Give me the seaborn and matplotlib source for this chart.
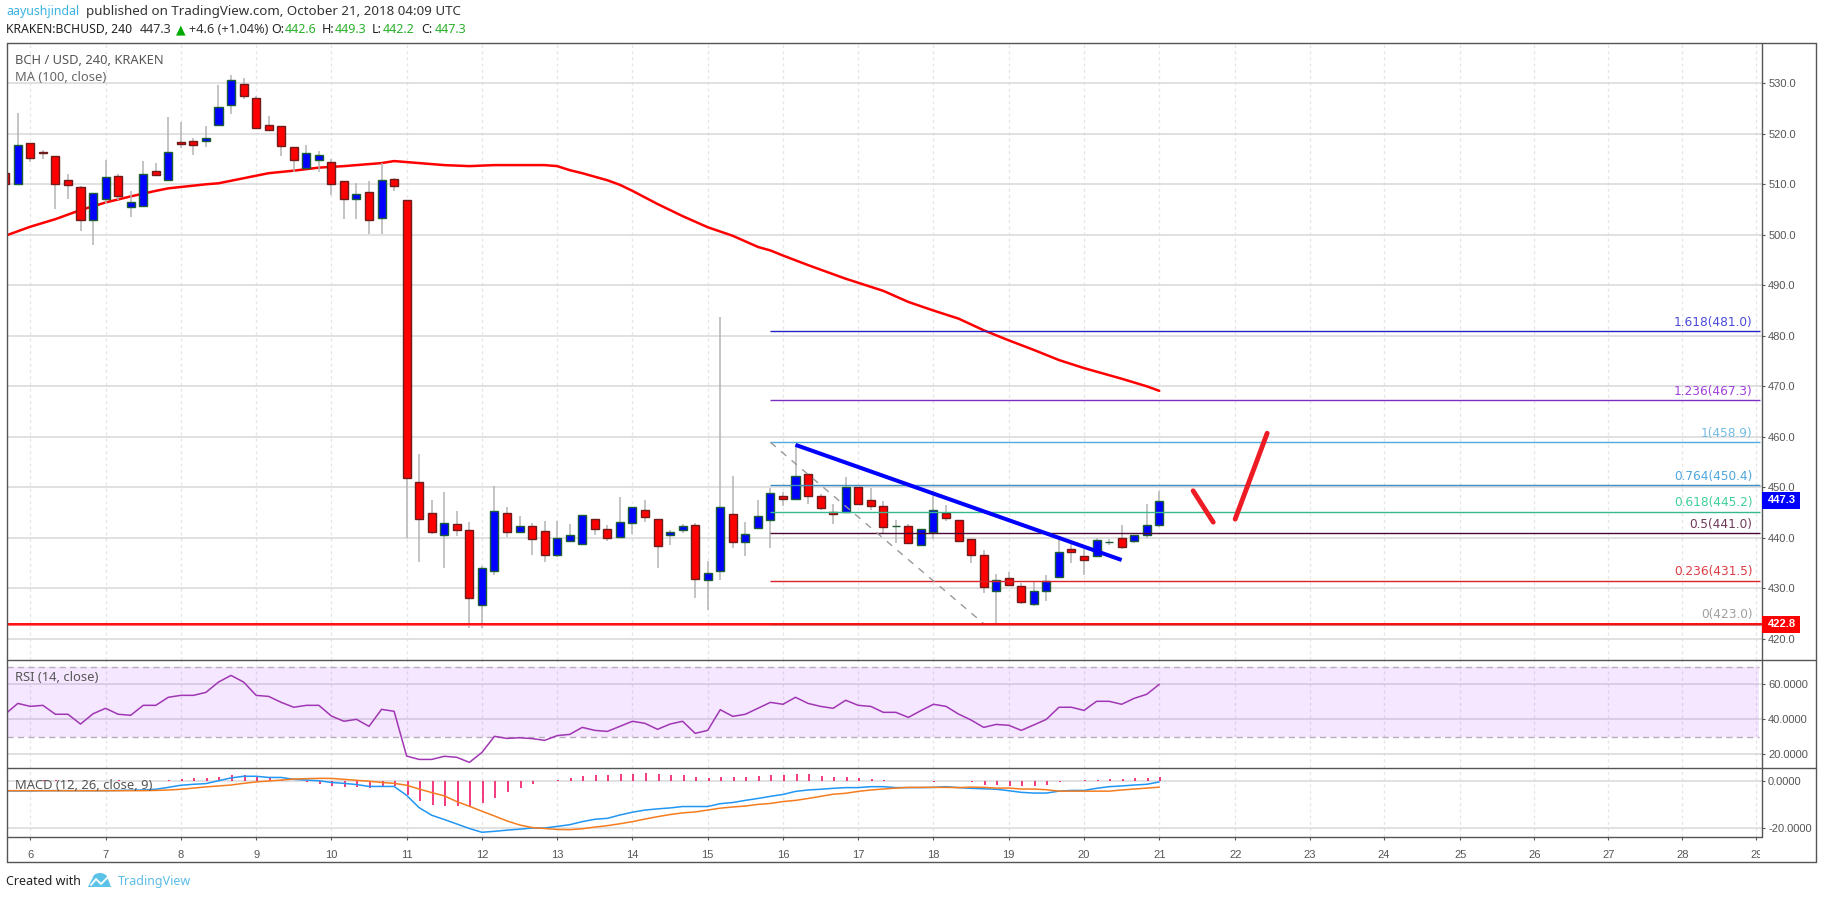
#!/usr/bin/env python3
"""BCH/USD 4h chart with MA, fib levels, RSI and MACD panes"""

import numpy as np
import pandas as pd
import matplotlib
matplotlib.use('Agg')
import matplotlib.pyplot as plt
from matplotlib.patches import Rectangle, Ellipse, Polygon
from matplotlib.lines import Line2D
from matplotlib.transforms import Bbox
import seaborn as sns

W, H = 1828, 899

# ─── data ────────────────────────────────────────────────────
bars = np.arange(-2, 91)

opens = [512.2,510.1,518.1,516.4,515.7,510.8,509.4,503.0,507.0,511.6,
         505.6,505.8,512.6,510.8,518.3,518.5,518.6,521.7,525.8,529.8,
         527.0,521.7,521.5,517.3,513.3,514.9,514.4,510.6,507.0,508.4,
         503.3,511.0,506.8,451.1,445.0,440.6,442.8,441.6,426.6,433.5,
         445.0,441.1,442.4,441.4,436.6,439.4,438.8,443.8,441.8,440.1,
         443.0,445.6,443.8,440.6,441.5,442.6,431.7,433.5,444.8,439.1,
         442.0,443.6,448.3,447.7,452.7,448.3,445.1,445.2,450.1,447.5,
         446.2,442.3,442.4,438.6,441.1,445.0,443.6,439.8,436.6,429.5,
         432.05,430.5,426.9,429.5,432.3,437.8,436.4,436.4,439.2,440.0,
         439.4,440.6,442.6]
highs = [512.2,524.1,518.1,516.8,515.7,512.0,509.7,508.2,514.8,512.0,
         508.7,514.6,514.2,523.3,522.3,519.2,521.6,529.7,531.7,531.1,
         527.4,523.5,521.5,517.3,517.8,516.6,515.1,510.6,510.3,510.6,
         514.2,511.2,506.8,456.6,447.4,449.0,445.4,443.2,434.5,450.2,
         446.0,444.4,443.0,443.4,443.4,442.8,444.6,443.8,442.6,448.0,
         446.0,447.4,443.8,441.5,442.8,443.0,435.4,483.7,452.2,443.2,
         447.4,449.9,449.0,458.5,452.7,448.7,446.6,452.0,450.1,449.8,
         447.2,443.6,442.8,441.7,449.3,446.4,443.6,439.8,437.5,432.8,
         433.3,431.0,431.4,432.7,439.5,438.8,437.8,440.0,439.8,442.5,
         440.6,446.6,449.3]
lows = [510.0,510.1,514.4,515.1,505.1,507.1,500.8,498.0,506.1,506.9,
        503.6,505.8,511.9,510.8,517.1,515.9,517.3,521.7,524.0,526.8,
        521.1,520.8,515.7,512.5,513.3,512.5,507.8,503.1,503.1,500.2,
        500.2,508.7,440.0,435.3,440.7,434.0,440.3,422.2,422.2,432.6,
        440.1,440.9,436.6,435.3,436.2,439.4,438.5,440.5,439.3,439.9,
        440.7,443.1,434.1,438.5,440.9,428.1,425.7,431.7,438.0,436.4,
        442.0,438.0,446.3,447.7,446.7,445.5,442.7,445.2,446.7,445.5,
        440.8,438.9,439.0,438.6,439.7,443.4,439.4,435.1,429.1,423.2,
        430.6,426.8,426.4,427.5,432.3,435.0,432.7,436.2,438.5,437.7,
        438.9,440.0,442.2]
closes = [510.0,517.7,515.3,516.1,510.1,509.9,503.0,508.2,511.4,507.6,
          506.4,512.0,511.9,516.3,517.9,517.7,519.2,525.4,530.6,527.4,
          521.1,520.8,517.5,514.9,516.1,515.9,510.0,507.0,508.0,503.0,
          510.8,509.6,451.8,443.7,441.1,443.0,441.5,428.0,434.0,445.4,
          441.1,442.4,439.8,436.6,440.0,440.6,444.6,441.8,439.9,443.2,
          446.0,444.1,438.3,441.2,442.4,431.9,433.0,446.0,439.1,440.8,
          444.4,448.9,447.7,452.3,448.3,445.9,444.7,450.1,446.7,446.2,
          442.2,442.3,439.0,441.7,445.5,443.9,439.4,436.6,430.2,431.7,
          430.6,427.2,429.5,431.4,437.2,437.2,435.6,439.6,439.2,438.2,
          440.6,442.6,447.3]

ma_bars = [-2,0,2,4,6,8,10,11,14,15,17,19,21,23,25,28,29,30,31,33,35,37,38,40,41,42,
           43,44,46,47,48,50,52,54,56,58,59,60,62,64,65,66,68,70,72,74,76,78,80,82,
           84,85,87,89,90]
ma_vals = [499.8,501.6,503.1,504.9,506.4,507.6,508.7,509.2,510.0,510.2,511.2,512.2,512.7,
           513.3,513.6,514.2,514.6,514.4,514.2,513.8,513.6,513.8,513.8,513.8,513.8,513.6,
           512.8,512.2,510.8,509.9,508.7,506.1,503.7,501.5,499.8,497.6,496.9,495.9,494.0,
           492.2,491.3,490.5,488.9,486.7,485.0,483.4,481.1,479.1,477.2,475.2,473.6,472.9,
           471.5,470.0,469.1]

rsi_vals = [43.0,49.1,47.4,48.0,42.9,42.9,37.3,43.2,46.3,42.9,
            42.3,48.0,48.0,52.6,53.7,53.7,55.4,61.3,65.1,61.3,
            53.7,53.1,49.7,46.9,48.0,48.0,41.9,38.9,40.0,36.0,
            45.7,44.6,19.0,17.1,17.1,18.9,18.3,15.4,21.1,30.3,
            29.1,29.5,29.0,28.0,30.7,31.4,35.4,33.7,33.1,36.0,
            38.9,37.7,34.3,37.3,38.9,32.0,33.7,45.5,41.7,42.9,
            46.3,49.7,48.6,52.6,49.1,47.4,46.3,50.9,48.0,47.4,
            44.0,44.0,41.1,45.0,48.6,47.4,43.0,39.6,35.4,37.1,
            36.6,33.7,36.8,40.0,46.9,46.9,45.1,50.3,50.3,48.6,
            52.0,54.3,60.0]

macd_vals = [-4.2,-4.2,-4.2,-4.1,-4.1,-4.1,-4.1,-4.1,-4.1,-4.0,
             -3.9,-3.8,-3.5,-2.7,-1.8,-1.4,-1.1,0.1,1.3,2.0,
             2.0,1.5,1.5,0.7,0.4,0.1,-0.6,-1.0,-1.5,-2.3,
             -2.3,-2.3,-6.1,-11.3,-14.5,-16.3,-18.2,-20.1,-21.7,-21.3,
             -20.8,-20.4,-19.9,-19.9,-19.2,-18.5,-17.2,-16.2,-15.8,-14.4,
             -13.2,-12.3,-11.8,-11.4,-10.8,-10.8,-10.8,-9.6,-9.1,-8.2,
             -7.4,-6.5,-5.7,-4.4,-3.8,-3.5,-3.1,-2.8,-2.8,-2.4,
             -2.4,-2.8,-2.8,-2.8,-2.7,-2.4,-2.8,-3.1,-3.3,-3.5,
             -4.1,-4.8,-5.1,-5.1,-4.3,-4.0,-4.0,-3.1,-2.4,-2.1,
             -1.7,-1.4,-0.4]
signal_vals = [-4.1,-4.1,-4.1,-4.1,-4.1,-4.1,-4.1,-4.1,-4.1,-4.1,
               -4.1,-4.1,-4.0,-3.8,-3.5,-3.0,-2.5,-2.1,-1.7,-1.0,
               -0.4,0.0,0.4,0.8,1.0,1.1,1.1,0.7,0.3,-0.1,
               -0.6,-1.0,-1.8,-3.4,-4.9,-6.3,-8.7,-10.7,-12.8,-14.8,
               -16.9,-18.6,-19.7,-20.1,-20.5,-20.6,-20.2,-19.5,-18.9,-18.1,
               -17.2,-16.1,-15.1,-14.2,-13.5,-13.1,-12.3,-11.5,-11.0,-10.6,
               -9.9,-9.5,-8.7,-8.2,-7.4,-6.5,-5.6,-5.2,-4.4,-3.8,
               -3.4,-3.0,-2.7,-2.7,-2.7,-2.7,-2.8,-2.6,-2.7,-3.0,
               -3.0,-3.4,-3.4,-3.7,-4.3,-4.3,-4.3,-4.3,-4.3,-3.8,
               -3.4,-3.0,-2.6]
hist_vals = [0,0,0,0.5,0.3,0.3,0.2,0.3,0.2,0.3,
             0.2,0.2,0.2,0.6,1.0,1.4,1.4,1.8,2.5,2.5,
             1.8,1.3,0.3,-0.1,-0.6,-1.1,-2.0,-2.5,-2.4,-2.8,
             -2.1,-2.1,-5.9,-8.5,-10.1,-10.6,-10.6,-10.6,-9.4,-7.2,
             -4.7,-3.0,-1.3,0,0.4,1.3,2.0,2.4,2.4,2.8,
             2.8,3.4,2.8,2.4,2.4,1.5,1.1,1.5,1.5,1.5,
             2.0,2.4,2.4,2.8,2.8,2.0,1.5,1.5,1.1,0.7,
             0.4,0.1,0,0,-0.3,0,-0.1,-0.4,-1.5,-1.6,
             -2.0,-2.0,-2.0,-1.5,-0.5,0,0.3,0.6,1.0,1.0,
             1.4,1.4,1.8]

tick_days = list(range(6, 30))
tick_bars = [0,6,12,18,24,30,36,42,48,54,60,66,72,78,84,90,
             96.06,102.0,107.9,114.0,119.9,125.8,131.7,137.6]

price_ticks = [420,430,440,450,460,470,480,490,500,510,520,530]
rsi_ticks = [20,40,60]
macd_ticks = [-20,0]

fib_levels = [1.618,1.236,1,0.764,0.618,0.5,0.236,0]
fib_prices = [481.0,467.3,458.9,450.4,445.2,441.0,431.5,423.0]
fib_line_colors = ['#2323c8','#7b2fbf','#4ea9dc','#3c8fc0','#36b98e','#4c0a33','#d9232b','#808080']
fib_text_colors = ['#4a4ad9','#a040d8','#72bbe2','#4fa5dd','#3fcf9a','#6e3a5a','#dc3c42','#a0a0a0']
fib_start, fib_end = 59, 137.9

support_price = 422.9
trend_bars, trend_prices = [61, 87], [458.4, 435.6]
diag_bars, diag_prices = [59, 76], [458.9, 423.0]
arrow_down_bars, arrow_down_prices = [92.7, 94.3], [449.3, 443.1]
arrow_up_bars, arrow_up_prices = [96.05, 98.6], [443.7, 460.7]

# ─── style ───────────────────────────────────────────────────
sns.set_theme(style='white')
plt.rcParams['font.family'] = ['Noto Sans', 'DejaVu Sans']
FRAME = '#555555'
GRID = '#d8d8d8'
VGRID = '#e6e6e6'
AXFONT = 'Liberation Sans'


def fx(px):
    return px / W


def fy(py):
    return 1 - py / H


def pane(top, bottom):
    return fig.add_axes([fx(6.5), fy(bottom), fx(1762 - 6.5), (bottom - top) / H])


def style_pane(ax, ylim, yticks, fmt):
    ax.set_xlim(-1.9, 138.05)
    ax.set_ylim(*ylim)
    ax.set_xticks(tick_bars)
    ax.set_yticks(yticks)
    ax.set_yticklabels([fmt.format(v) for v in yticks], family=AXFONT)
    ax.yaxis.tick_right()
    ax.tick_params(axis='y', length=2.4, width=0.8, color=FRAME, labelcolor='#555555',
                   labelsize=8, pad=2.0, left=False, right=True)
    ax.tick_params(axis='x', bottom=False, labelbottom=False)
    for t in yticks:
        ax.axhline(t, color=GRID, lw=1.1, zorder=0.5)
    for t in tick_bars:
        ax.axvline(t, color=VGRID, lw=0.9, ls=(0, (2.5, 2.5)), zorder=0.4)
    for s in ax.spines.values():
        s.set_visible(False)
    ax.patch.set_alpha(0)


fig = plt.figure(figsize=(W / 100, H / 100), dpi=100, facecolor='white')

# ─── main pane ───────────────────────────────────────────────
ax = pane(43, 660)
style_pane(ax, (415.8, 537.98), price_ticks, '{:.1f}')

df = pd.DataFrame({'bar': bars, 'open': opens, 'high': highs, 'low': lows, 'close': closes})
df['up'] = df['close'] >= df['open']

sns.lineplot(x=ma_bars, y=ma_vals, ax=ax, color='#ff0000', lw=1.8, zorder=2, errorbar=None)

ax.vlines(df['bar'], df['low'], df['high'], color='#b4b4b4', lw=1.1, zorder=3)
for up, face, edge in [(True, '#0000ff', '#1b5e35'), (False, '#ff0000', '#6e1c1c')]:
    d = df[df['up'] == up]
    ax.bar(d['bar'], (d['close'] - d['open']).abs(), bottom=d[['open', 'close']].min(axis=1),
           width=0.64, color=face, edgecolor=edge, lw=1.0, zorder=4)

ax.axhline(support_price, color='#ff7070', lw=2.2, zorder=5)
ax.axhline(support_price, color='#ff0000', lw=1.2, zorder=5.1)

for lev, price, lc, tc in zip(fib_levels, fib_prices, fib_line_colors, fib_text_colors):
    ax.hlines(price, fib_start, fib_end, color=lc, lw=1.0, zorder=5)
    ax.annotate(f'{lev:g}({price:.1f})', xy=(137.3, price), xytext=(0, 1.6), textcoords='offset points',
                ha='right', va='bottom', color=tc, fontsize=8.7, family='DejaVu Sans', zorder=7)

ax.plot(diag_bars, diag_prices, color='#999999', lw=1.0, ls=(0, (5, 5)), zorder=5)
ax.plot(trend_bars, trend_prices, color='#0000ff', lw=2.9, solid_capstyle='butt', zorder=6)
ax.plot(arrow_down_bars, arrow_down_prices, color='#ed1c24', lw=3.5, solid_capstyle='round', zorder=6)
ax.plot(arrow_up_bars, arrow_up_prices, color='#ed1c24', lw=3.5, solid_capstyle='round', zorder=6)

# ─── RSI pane ────────────────────────────────────────────────
ax_rsi = pane(660, 768)
style_pane(ax_rsi, (12.2, 73.9), rsi_ticks, '{:.4f}')
ax_rsi.fill_between([-1.9, 137.85], 30, 70, color='#9915ff', alpha=0.1, lw=0, zorder=1)
ax_rsi.hlines([30, 70], -1.9, 137.85, color='#b8adc0', lw=1.0, ls=(0, (4.5, 3)), zorder=1.5)
sns.lineplot(x=bars, y=rsi_vals, ax=ax_rsi, color='#a136b4', lw=1.1, zorder=3, errorbar=None)

# ─── MACD pane ───────────────────────────────────────────────
ax_macd = pane(768, 837)
style_pane(ax_macd, (-23.7, 5.5), macd_ticks, '{:.4f}')
ax_macd.vlines(bars + 0.08, 0, hist_vals, color='#f0045f', lw=1.1, zorder=2)
sns.lineplot(x=bars, y=macd_vals, ax=ax_macd, color='#2196f3', lw=1.1, zorder=3, errorbar=None)
sns.lineplot(x=bars, y=signal_vals, ax=ax_macd, color='#f57c1f', lw=1.1, zorder=4, errorbar=None)

ax_macd.tick_params(axis='x', bottom=True, labelbottom=True, length=2.4, width=0.8, color=FRAME,
                    labelcolor='#555555', labelsize=8, pad=7)
ax_macd.set_xticklabels([str(d) for d in tick_days], family=AXFONT)
# 29 gets cut at the price scale like on the original
clip = Bbox.from_extents(0, 0, 1760, H)
for lab in ax_macd.get_xticklabels():
    lab.set_clip_on(True)
    lab.set_clip_box(clip)

# ─── frame lines ─────────────────────────────────────────────
for x0, y0, x1, y1 in [(6.5, 43, 1816, 43), (6.5, 43, 6.5, 862), (6.5, 862, 1816, 862), (1816, 43, 1816, 862),
                       (6.5, 660, 1816, 660), (6.5, 768, 1816, 768), (6.5, 837, 1762, 837), (1762, 43, 1762, 837)]:
    fig.add_artist(Line2D([fx(x0), fx(x1)], [fy(y0), fy(y1)], color=FRAME, lw=1.0, zorder=8))

# ─── price boxes ─────────────────────────────────────────────
for top, bottom, color, label in [(492, 508.7, '#0000ff', '447.3'), (616, 632.7, '#ff0000', '422.8')]:
    fig.add_artist(Rectangle((fx(1762), fy(bottom)), 38 / W, (bottom - top) / H, color=color, lw=0, zorder=9))
    fig.text(fx(1768), fy((top + bottom) / 2), label, color='white', fontsize=8, fontweight='bold',
             family=AXFONT, va='center', zorder=10)

# ─── header / legends ────────────────────────────────────────
fig.text(fx(6.3), fy(11.5), 'aayushjindal', color='#3bb3e4', fontsize=8.9, va='center')
fig.text(fx(85.5), fy(11.5), 'published on TradingView.com, October 21, 2018 04:09 UTC', color='#333333',
         fontsize=9.6, va='center')

GREEN = '#2bb02b'
row2 = [(6.3, 'KRAKEN:BCHUSD, 240', '#222222', 'bold', 8.8), (140, '447.3', '#333333', 'normal', 9),
        (175.5, '▲', '#00aa00', 'normal', 9), (189.3, '+4.6 (+1.04%)', '#333333', 'normal', 9.2),
        (271.7, 'O:', '#222222', 'bold', 9), (285, '442.6', GREEN, 'normal', 9),
        (321.7, 'H:', '#222222', 'bold', 9), (335, '449.3', GREEN, 'normal', 9),
        (371.7, 'L:', '#222222', 'bold', 9), (382.3, '442.2', GREEN, 'normal', 9),
        (421.5, 'C:', '#222222', 'bold', 9), (434.7, '447.3', GREEN, 'normal', 9)]
for x, s, c, w, size in row2:
    fig.text(fx(x), fy(29.5), s, color=c, fontsize=size, fontweight=w, va='center', zorder=10)

fig.text(fx(15.3), fy(60.7), 'BCH / USD, 240, KRAKEN', color='#555555', fontsize=9.3, fontweight='bold',
         va='center', zorder=10)
fig.text(fx(15.3), fy(77.7), 'MA (100, close)', color='#666666', fontsize=9.3, va='center', zorder=10)
fig.text(fx(15.3), fy(677.3), 'RSI (14, close)', color='#555555', fontsize=9.3, va='center', zorder=10)
fig.text(fx(15.3), fy(785.7), 'MACD (12, 26, close, 9)', color='#555555', fontsize=9.3, va='center', zorder=10)

# ─── footer ──────────────────────────────────────────────────
fig.text(fx(6.3), fy(881.7), 'Created with', color='#222222', fontsize=9, va='center')
fig.text(fx(118), fy(881.7), 'TradingView', color='#5cbde6', fontsize=9, va='center')
LOGO = '#5cc3e8'
fig.add_artist(Ellipse((fx(100), fy(878.5)), 15 / W, 11 / H, color=LOGO, lw=0))
fig.add_artist(Polygon([(fx(88), fy(887)), (fx(111), fy(887)), (fx(108), fy(879)), (fx(92), fy(879))],
                       closed=True, color=LOGO, lw=0))
fig.add_artist(Line2D([fx(91), fx(96), fx(101), fx(108)], [fy(885), fy(879), fy(884), fy(877)],
                      color='white', lw=1.3))

fig.savefig('out.png', dpi=100)
plt.close(fig)
